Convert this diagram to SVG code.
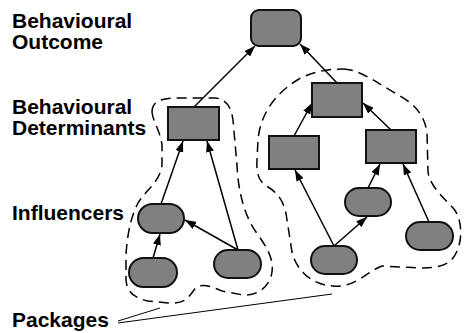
<svg xmlns="http://www.w3.org/2000/svg" width="465" height="333" viewBox="0 0 465 333">
<defs>
<style>
.lbl{font-family:"Liberation Sans",Arial,sans-serif;font-weight:bold;font-size:21px;fill:#000}
.n{fill:#808080;stroke:#111;stroke-width:2}
.e{stroke:#000;stroke-width:1.5;fill:none;marker-end:url(#ah)}
.pk{fill:none;stroke:#000;stroke-width:1.5;stroke-dasharray:10,6}
.pl{stroke:#000;stroke-width:1;fill:none}
</style>
<marker id="ah" markerUnits="userSpaceOnUse" markerWidth="11" markerHeight="8" refX="11" refY="4" orient="auto">
<path d="M0,0 L11,4 L0,8 Z" fill="#000"/>
</marker>
</defs>
<rect width="465" height="333" fill="#fff"/>
<g id="labels">
<text class="lbl" x="12" y="28">Behavioural</text>
<text class="lbl" x="12" y="49">Outcome</text>
<text class="lbl" x="12" y="114">Behavioural</text>
<text class="lbl" x="12" y="135">Determinants</text>
<text class="lbl" x="12" y="220">Influencers</text>
<text class="lbl" x="12" y="327">Packages</text>
</g>
<g id="packages">
<path class="pk" d="M152,112 C152,102 160,98 177,98 L215,98 C226,99 231,106 233,120 L237,165 C238,190 244,215 256,232 C266,246 274,258 272,272 C270,286 258,296 243,295 L222,291 C210,286 200,282 194,290 C188,298 185,304 168,303 L148,301 C134,298 127,292 126,280 L126,255 C127,238 130,218 138,203 C146,190 160,182 162,165 L162,145 C160,130 153,122 152,112 Z"/>
<path class="pk" d="M343,69 C360,69 380,85 400,96 C414,104 424,114 427,132 L428,172 C430,186 442,196 454,209 C465,224 462,252 449,262 C437,270 420,268 402,267 L382,266 C366,272 355,288 333,286 C313,285 297,272 292,252 L287,220 C285,202 278,193 268,187 C259,182 256,174 257,160 L258,140 C260,115 275,93 299,79 C314,71 330,69 343,69 Z"/>
<path class="pl" d="M118,321 L160,308"/>
<path class="pl" d="M118,323 L332,294"/>
</g>
<g id="connectors">
<line class="e" x1="194" y1="107" x2="255" y2="46"/>
<line class="e" x1="337" y1="83" x2="300" y2="44"/>
<line class="e" x1="294" y1="136" x2="312" y2="103"/>
<line class="e" x1="391" y1="130" x2="363" y2="103"/>
<line class="e" x1="161" y1="204" x2="183" y2="141"/>
<line class="e" x1="238" y1="250" x2="207" y2="141"/>
<line class="e" x1="238" y1="250" x2="185" y2="220"/>
<line class="e" x1="153" y1="258" x2="160" y2="234"/>
<line class="e" x1="334" y1="246" x2="295" y2="170"/>
<line class="e" x1="334" y1="246" x2="367" y2="217"/>
<line class="e" x1="368" y1="188" x2="380" y2="164"/>
<line class="e" x1="429" y1="222" x2="403" y2="164"/>
</g>
<g id="outcome"><rect class="n" x="251" y="10" width="50" height="36" rx="8"/></g>
<g id="det-left"><rect class="n" x="168" y="107" width="51" height="33"/></g>
<g id="det-right-top"><rect class="n" x="312" y="83" width="50" height="34"/></g>
<g id="det-right-left"><rect class="n" x="269" y="136" width="50" height="33"/></g>
<g id="det-right-right"><rect class="n" x="366" y="130" width="50" height="33"/></g>
<g id="inf-l1"><rect class="n" x="138" y="204" width="46" height="29" rx="14.5"/></g>
<g id="inf-l2"><rect class="n" x="129" y="258" width="48" height="29" rx="14.5"/></g>
<g id="inf-l3"><rect class="n" x="214" y="250" width="47" height="28" rx="14"/></g>
<g id="inf-r1"><rect class="n" x="345" y="188" width="46" height="28" rx="14"/></g>
<g id="inf-r2"><rect class="n" x="311" y="246" width="46" height="28" rx="14"/></g>
<g id="inf-r3"><rect class="n" x="406" y="222" width="47" height="28" rx="14"/></g>
</svg>
